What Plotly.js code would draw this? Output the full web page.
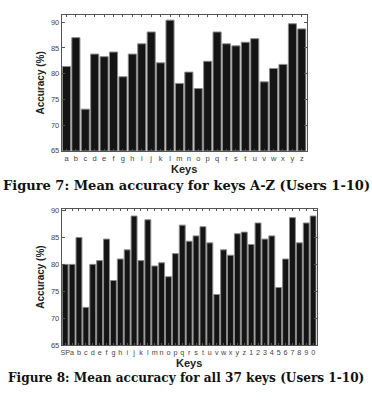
<!DOCTYPE html>
<html><head><meta charset="utf-8">
<script src="https://cdn.plot.ly/plotly-3.0.1.min.js"></script>
<style>html,body{margin:0;padding:0;background:#fff}</style>
</head><body><div id="chart" style="width:372px;height:400px"></div>
<script>
const keysAZ = ["a","b","c","d","e","f","g","h","i","j","k","l","m","n","o","p","q","r","s","t","u","v","w","x","y","z"];
const accAZ = [81.4,87.0,73.1,83.8,83.3,84.2,79.4,83.8,85.8,88.1,82.1,90.4,78.1,80.3,77.1,82.4,88.1,85.8,85.4,86.1,86.8,78.4,81.0,81.8,89.7,88.7];
const keysAll = ["SP","a","b","c","d","e","f","g","h","i","j","k","l","m","n","o","p","q","r","s","t","u","v","w","x","y","z","1","2","3","4","5","6","7","8","9","0"];
const accAll = [80.0,80.0,85.0,72.0,80.0,80.7,84.7,77.0,81.0,82.7,89.0,80.7,88.3,79.7,80.3,77.7,82.0,87.3,84.3,85.3,87.0,84.0,74.4,82.7,81.7,85.7,86.0,83.7,87.7,84.7,85.3,75.7,81.0,88.7,84.0,87.7,89.0];
const yTicks = [65,70,75,80,85,90];
const caption1 = "Figure 7: Mean accuracy for keys A-Z (Users 1-10)";
const caption2 = "Figure 8: Mean accuracy for all 37 keys (Users 1-10)";
const yTitle = "Accuracy (%)";
const xTitle = "Keys";

const barStyle = {color:"#141414", line:{color:"#8a8a8a", width:1}};
const traces = [
  {type:"bar", x:keysAZ, y:accAZ, xaxis:"x", yaxis:"y", marker:barStyle, hoverinfo:"x+y"},
  {type:"bar", x:keysAll, y:accAll, xaxis:"x2", yaxis:"y2", marker:barStyle, hoverinfo:"x+y"}
];
const tickFont = {family:"Liberation Sans, Arial, sans-serif", size:7.5, color:"#444"};
const titleFont = {family:"Liberation Sans, Arial, sans-serif", size:10, color:"#222", weight:"bold"};
function xax(domain, anchor, cats, fsize){
  return {domain:domain, anchor:anchor, type:"category", showline:true, linecolor:"#555", linewidth:1, mirror:"allticks",
    ticks:"inside", ticklen:2, tickcolor:"#555", tickfont:Object.assign({}, tickFont, {size:fsize}), tickangle:0,
    tickmode:"array", tickvals:cats, ticktext:cats, showgrid:false, zeroline:false,
    title:{text:xTitle, font:Object.assign({}, titleFont, {size:11}), standoff:0}, fixedrange:true};
}
function yax(domain, anchor, top){
  return {domain:domain, anchor:anchor, range:[65, top], tickvals:yTicks, showline:true, linecolor:"#555", linewidth:1, mirror:"allticks",
    ticks:"inside", ticklen:3, tickcolor:"#555", tickfont:tickFont, showgrid:false, zeroline:false,
    title:{text:yTitle, font:titleFont, standoff:4}, fixedrange:true};
}
const capFont = {family:"DejaVu Serif, Liberation Serif, serif", color:"#111", weight:"bold"};
const layout = {
  width:372, height:400, margin:{l:0,r:0,t:0,b:0}, paper_bgcolor:"#fff", plot_bgcolor:"#fff",
  showlegend:false, bargap:0.14,
  xaxis: xax([0.166,0.824], "y", keysAZ, 7.5),
  yaxis: yax([0.623,0.9625], "x", 91.4),
  xaxis2: xax([0.166,0.851], "y2", keysAll, 7.2),
  yaxis2: yax([0.1375,0.4775], "x2", 90.3),
  annotations:[
    {text:caption1, xref:"paper", yref:"paper", x:0.5, y:1-185/400, xanchor:"center", yanchor:"middle", showarrow:false, font:Object.assign({}, capFont, {size:13})},
    {text:caption2, xref:"paper", yref:"paper", x:0.5, y:1-378/400, xanchor:"center", yanchor:"middle", showarrow:false, font:Object.assign({}, capFont, {size:12.1})}
  ]
};
Plotly.newPlot("chart", traces, layout, {displayModeBar:false, staticPlot:true});
</script></body></html>
